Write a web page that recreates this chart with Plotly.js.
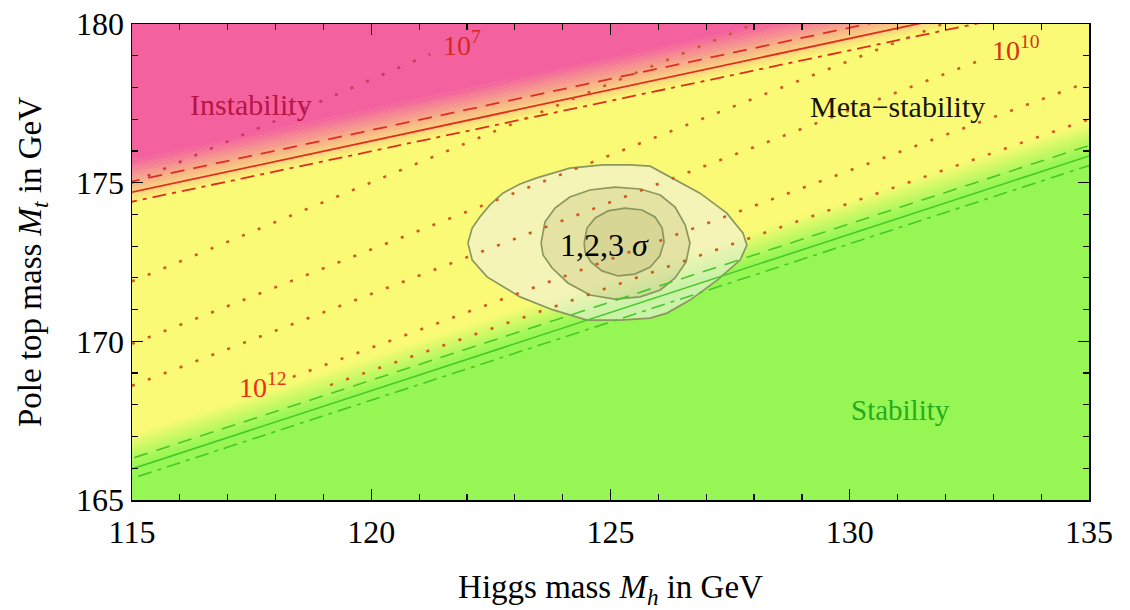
<!DOCTYPE html>
<html><head><meta charset="utf-8">
<script src="https://cdn.plot.ly/plotly-3.0.1.min.js"></script>
<style>html,body{margin:0;padding:0;background:#fff}</style>
</head><body>
<div id="chart" style="width:1130px;height:610px"></div>
<script>
// ---------------- data ----------------
const xTicks = [115, 120, 125, 130, 135];
const yTicks = [165, 170, 175, 180];

// meta-stability boundary (red): Mt at Mh=115 and slope dMt/dMh
const redSolid   = {mt0: 174.70, slope: 0.323};
const redUpper   = {mt0: 175.04, slope: 0.323};
const redLower   = {mt0: 174.40, slope: 0.318};
// stability boundary (green)
const greenSolid = {mt0: 165.98, slope: 0.493};
const greenUpper = {mt0: 166.31, slope: 0.493};
const greenLower = {mt0: 165.68, slope: 0.493};

// instability-scale contours (dotted): endpoints [Mh], [Mt]
const lam7X    = [115.0, 121.23],  lam7Y    = [175.00, 179.05];
const lam8X    = [115.0, 128.0],   lam8Y    = [171.89, 180.00];
const lam9X    = [115.0, 131.94],  lam9Y    = [169.92, 180.00];
const lam10X   = [115.0, 132.65],  lam10Y   = [168.60, 178.81];
const lam12X   = [118.36, 135.0],  lam12Y   = [168.88, 178.18];
const lamNextX = [119.14, 135.0],  lamNextY = [168.62, 177.00];

// 1,2,3 sigma contours of the measured (Mh, Mt)
const s3X = [122.02,122.11,122.27,122.48,122.75,123.11,123.46,124.15,124.84,125.41,125.83,126.18,126.87,127.43,127.77,127.85,127.71,127.23,126.66,126.18,125.83,125.20,124.51,123.80,123.11,122.42,122.11,122.02];
const s3Y = [173.10,173.57,173.92,174.30,174.67,174.96,175.15,175.46,175.56,175.56,175.52,175.24,174.67,174.04,173.41,173.03,172.56,171.93,171.30,170.89,170.73,170.67,170.67,170.99,171.40,172.03,172.56,173.10];
const s2X = [123.55,123.63,123.84,124.15,124.57,125.09,125.62,126.04,126.35,126.56,126.66,126.58,126.35,126.04,125.62,125.09,124.57,124.11,123.78,123.59,123.55];
const s2Y = [173.10,173.76,174.20,174.55,174.77,174.86,174.80,174.61,174.23,173.67,173.10,172.50,172.00,171.62,171.40,171.33,171.46,171.84,172.31,172.72,173.10];
const s1X = [124.45,124.51,124.68,124.95,125.30,125.66,125.93,126.08,126.12,126.03,125.83,125.51,125.16,124.82,124.59,124.47,124.45];
const s1Y = [173.10,173.57,173.89,174.11,174.20,174.14,173.92,173.57,173.13,172.69,172.34,172.12,172.06,172.22,172.50,172.81,173.10];

// ---------------- styling helpers ----------------
const PINK = [243, 98, 158], YELLOW = [250, 250, 118], GREEN = [150, 247, 84];
const SERIF = 'Liberation Serif';
function mix(a, b, t) { return 'rgb(' + a.map((v, i) => Math.round(v + (b[i] - v) * t)).join(',') + ')'; }
function lineAt(L, x, off) { return L.mt0 + L.slope * (x - 115) + off; }
function band(L, offA, offB, color) {
  const xa = 105, xb = 145;
  return {x: [xa, xb, xb, xa, xa],
          y: [lineAt(L, xa, offA), lineAt(L, xb, offA), lineAt(L, xb, offB), lineAt(L, xa, offB), lineAt(L, xa, offA)],
          type: 'scatter', mode: 'lines', fill: 'toself', fillcolor: color,
          line: {width: 0}, hoverinfo: 'skip', showlegend: false};
}
const traces = [];
traces.push(band(redSolid, 1.0, 40, mix(PINK, PINK, 0)));
const NB = 16;
for (let i = 0; i < NB; i++) {
  const a = -0.35 + (1.35 * i) / NB, b = -0.35 + (1.35 * (i + 1)) / NB;
  traces.push(band(redSolid, a, b + 0.01, mix(YELLOW, PINK, (i + 0.5) / NB)));
}
traces.push(band(greenSolid, -40, 0.1, mix(GREEN, GREEN, 0)));
for (let i = 0; i < NB; i++) {
  const a = 0.1 + (1.0 * i) / NB, b = 0.1 + (1.0 * (i + 1)) / NB;
  traces.push(band(greenSolid, a - 0.01, b, mix(GREEN, YELLOW, (i + 0.5) / NB)));
}
const cLine = {color: 'rgb(140,150,95)', width: 1.7};
traces.push({x: s3X, y: s3Y, type: 'scatter', mode: 'lines', fill: 'toself', fillcolor: 'rgba(240,240,230,0.58)', line: cLine, hoverinfo: 'skip', showlegend: false});
traces.push({x: s2X, y: s2Y, type: 'scatter', mode: 'lines', fill: 'toself', fillcolor: 'rgba(175,170,95,0.22)', line: cLine, hoverinfo: 'skip', showlegend: false});
traces.push({x: s1X, y: s1Y, type: 'scatter', mode: 'lines', fill: 'toself', fillcolor: 'rgba(175,170,95,0.22)', line: cLine, hoverinfo: 'skip', showlegend: false});

function bline(L, color, dash, w) {
  return {x: [105, 145], y: [lineAt(L, 105, 0), lineAt(L, 145, 0)], type: 'scatter', mode: 'lines',
          line: {color: color, dash: dash, width: w}, hoverinfo: 'skip', showlegend: false};
}
const RED = 'rgb(225,45,30)', GRN = 'rgb(70,200,40)';
traces.push(bline(redUpper, RED, '14px,9px', 1.8));
traces.push(bline(redSolid, RED, 'solid', 1.8));
traces.push(bline(redLower, RED, '14px,6px,4px,6px', 1.8));
traces.push(bline(greenUpper, GRN, '14px,9px', 1.6));
traces.push(bline(greenSolid, GRN, 'solid', 1.6));
traces.push(bline(greenLower, GRN, '14px,6px,4px,6px', 1.6));

function dotted(xs, ys, color) {
  return {x: xs, y: ys, type: 'scatter', mode: 'lines', line: {color: color, width: 2.6, dash: '3px,14px'}, hoverinfo: 'skip', showlegend: false};
}
const DOT = 'rgb(205,90,30)';
traces.push(dotted(lam7X, lam7Y, 'rgb(205,55,95)'));
traces.push(dotted(lam8X, lam8Y, DOT));
traces.push(dotted(lam9X, lam9Y, DOT));
traces.push(dotted(lam10X, lam10Y, DOT));
traces.push(dotted(lam12X, lam12Y, DOT));
traces.push(dotted(lamNextX, lamNextY, DOT));

const annotations = [
  {x: 117.48, y: 177.45, text: 'Instability', font: {family: SERIF, size: 30, color: 'rgb(185,20,70)'}},
  {x: 131.0, y: 177.4, text: 'Meta\u2212stability', font: {family: SERIF, size: 30, color: 'rgb(20,20,10)'}},
  {x: 131.07, y: 167.85, text: 'Stability', font: {family: SERIF, size: 29, color: 'rgb(40,170,30)'}},
  {x: 124.88, y: 173.03, text: '1,2,3 <i>\u03c3</i>', font: {family: SERIF, size: 32, color: 'black'}},
  {x: 121.9, y: 179.4, text: '10<sup>7</sup>', font: {family: SERIF, size: 28, color: 'rgb(215,40,40)'}},
  {x: 133.47, y: 179.22, text: '10<sup>10</sup>', font: {family: SERIF, size: 28, color: 'rgb(215,50,20)'}},
  {x: 117.74, y: 168.6, text: '10<sup>12</sup>', font: {family: SERIF, size: 28, color: 'rgb(232,50,20)'}}
].map(a => Object.assign({xref: 'x', yref: 'y', showarrow: false, xanchor: 'center', yanchor: 'middle'}, a));

const axisCommon = {
  showgrid: false, zeroline: false, showline: true, linecolor: 'black', linewidth: 1.5,
  mirror: 'allticks', ticks: 'inside', ticklen: 11, tickwidth: 1.3, tickcolor: 'black',
  tickfont: {family: SERIF, size: 32, color: 'black'},
  minor: {dtick: 1, ticks: 'inside', ticklen: 6, tickwidth: 1.2, tickcolor: 'black'}
};
const layout = {
  width: 1130, height: 610,
  margin: {l: 132, r: 41, t: 24, b: 110},
  paper_bgcolor: 'white', plot_bgcolor: 'rgb(250,250,118)',
  showlegend: false,
  xaxis: Object.assign({}, axisCommon, {range: [115, 135], tickvals: xTicks, ticktext: xTicks.map(String), ticklabelstandoff: 3,
    title: {text: 'Higgs mass <i>M<sub>h</sub></i> in GeV', font: {family: SERIF, size: 33, color: 'black'}, standoff: 29}}),
  yaxis: Object.assign({}, axisCommon, {range: [165, 180], tickvals: yTicks, ticktext: yTicks.map(String),
    title: {text: 'Pole top mass <i>M<sub>t</sub></i> in GeV', font: {family: SERIF, size: 33, color: 'black'}, standoff: 24}}),
  annotations: annotations
};
Plotly.newPlot('chart', traces, layout, {staticPlot: true, displayModeBar: false});
</script>
</body></html>
